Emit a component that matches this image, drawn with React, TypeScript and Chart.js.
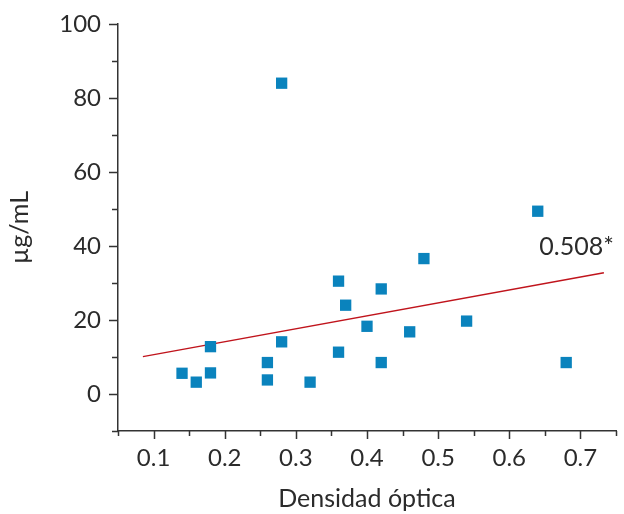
import React, { useEffect, useRef } from "react";
import { Chart, registerables } from "chart.js";

Chart.register(...registerables);

// Data
const densidad: number[] = [0.14, 0.16, 0.18, 0.18, 0.26, 0.26, 0.28, 0.28, 0.32, 0.36, 0.37, 0.36, 0.40, 0.42, 0.42, 0.46, 0.48, 0.54, 0.64, 0.68];
const ugml: number[] = [5.6, 3.2, 12.8, 5.7, 8.5, 3.8, 14.1, 84.0, 3.2, 30.5, 24.0, 11.3, 18.3, 28.4, 8.5, 16.8, 36.6, 19.7, 49.4, 8.5];

const fitX: number[] = [0.085, 0.733];
const fitY: number[] = [10.1, 32.8];

const annotationText = "0.508*";
const annotationX = 0.747;
const annotationY = 37.6;

const xTitle = "Densidad óptica";
const yTitle = "µg/mL";

const xMin = 0.05, xMax = 0.75, xStep = 0.05;
const yMin = -10, yMax = 100, yStep = 10;

const FONT = "Lato, 'Open Sans', 'DejaVu Sans', sans-serif";
const TEXT = "#2b2b2b";
const AXIS = "#333333";

const isMajorX = (v: number) => Math.round(v * 100) % 10 === 0;
const isMajorY = (v: number) => Math.round(v) % 20 === 0 && v >= 0;

const tickPlugin = {
  id: "customTicks",
  afterDraw(chart: any) {
    const ctx = chart.ctx;
    const xs = chart.scales.x;
    const ys = chart.scales.y;
    const area = chart.chartArea;
    ctx.save();
    ctx.strokeStyle = AXIS;
    ctx.lineWidth = 1.5;
    ctx.beginPath();
    xs.ticks.forEach((t: any) => {
      const px = Math.round(xs.getPixelForValue(t.value)) + 0.5;
      const len = isMajorX(t.value) ? 8 : 5;
      ctx.moveTo(px, area.bottom);
      ctx.lineTo(px, area.bottom + len);
    });
    ys.ticks.forEach((t: any) => {
      const py = Math.round(ys.getPixelForValue(t.value)) + 0.5;
      const len = isMajorY(t.value) ? 9 : 6;
      ctx.moveTo(area.left, py);
      ctx.lineTo(area.left - len, py);
    });
    ctx.stroke();
    ctx.fillStyle = TEXT;
    ctx.font = `25px ${FONT}`;
    ctx.textAlign = "right";
    ctx.textBaseline = "alphabetic";
    ctx.fillText(annotationText, xs.getPixelForValue(annotationX), ys.getPixelForValue(annotationY));
    ctx.restore();
  },
};

export default function App() {
  const ref = useRef<HTMLCanvasElement | null>(null);
  useEffect(() => {
    if (!ref.current) return;
    const chart = new Chart(ref.current, {
      type: "scatter",
      data: {
        datasets: [
          {
            type: "scatter",
            data: densidad.map((x, i) => ({ x, y: ugml[i] })),
            pointStyle: "rect",
            pointRadius: 8,
            pointBorderWidth: 0,
            backgroundColor: "#0a83bd",
            borderColor: "#0a83bd",
          },
          {
            type: "line",
            data: fitX.map((x, i) => ({ x, y: fitY[i] })),
            borderColor: "#c0141c",
            borderWidth: 1.5,
            pointRadius: 0,
            fill: false,
          } as any,
        ],
      },
      options: {
        responsive: false,
        animation: false,
        devicePixelRatio: 1,
        layout: { padding: { left: 0, top: 24, right: 3, bottom: 0 } },
        plugins: { legend: { display: false }, tooltip: { enabled: false } },
        scales: {
          x: {
            type: "linear",
            min: xMin,
            max: xMax,
            grid: { display: true, drawOnChartArea: false, drawTicks: true, tickLength: 13, color: "rgba(0,0,0,0)" },
            border: { display: true, color: AXIS, width: 1.5 },
            ticks: {
              stepSize: xStep,
              autoSkip: false,
              maxRotation: 0,
              padding: 0,
              color: TEXT,
              font: { family: FONT, size: 24 },
              callback: (v: any) => (isMajorX(Number(v)) ? Number(v).toFixed(1) : ""),
            },
            title: { display: true, text: xTitle, color: TEXT, font: { family: FONT, size: 25 }, padding: { top: 0, bottom: 0 } },
            afterFit: (s: any) => { s.height = 83; },
          },
          y: {
            type: "linear",
            min: yMin,
            max: yMax,
            grid: { display: true, drawOnChartArea: false, drawTicks: true, tickLength: 9, color: "rgba(0,0,0,0)" },
            border: { display: true, color: AXIS, width: 1.5 },
            ticks: {
              stepSize: yStep,
              autoSkip: false,
              padding: 8,
              color: TEXT,
              font: { family: FONT, size: 24 },
              callback: (v: any) => (isMajorY(Number(v)) ? String(Math.round(Number(v))) : ""),
            },
            title: { display: true, text: yTitle, color: TEXT, font: { family: FONT, size: 25 }, padding: { top: 5, bottom: 0 } },
            afterFit: (s: any) => { s.width = 118; },
          },
        },
      },
      plugins: [tickPlugin],
    } as any);
    return () => chart.destroy();
  }, []);
  return (
    <div style={{ position: "fixed", left: 0, top: 0, width: 624, height: 514, background: "#fff" }}>
      <canvas ref={ref} width={624} height={514} style={{ width: 624, height: 514, display: "block" }} />
    </div>
  );
}
